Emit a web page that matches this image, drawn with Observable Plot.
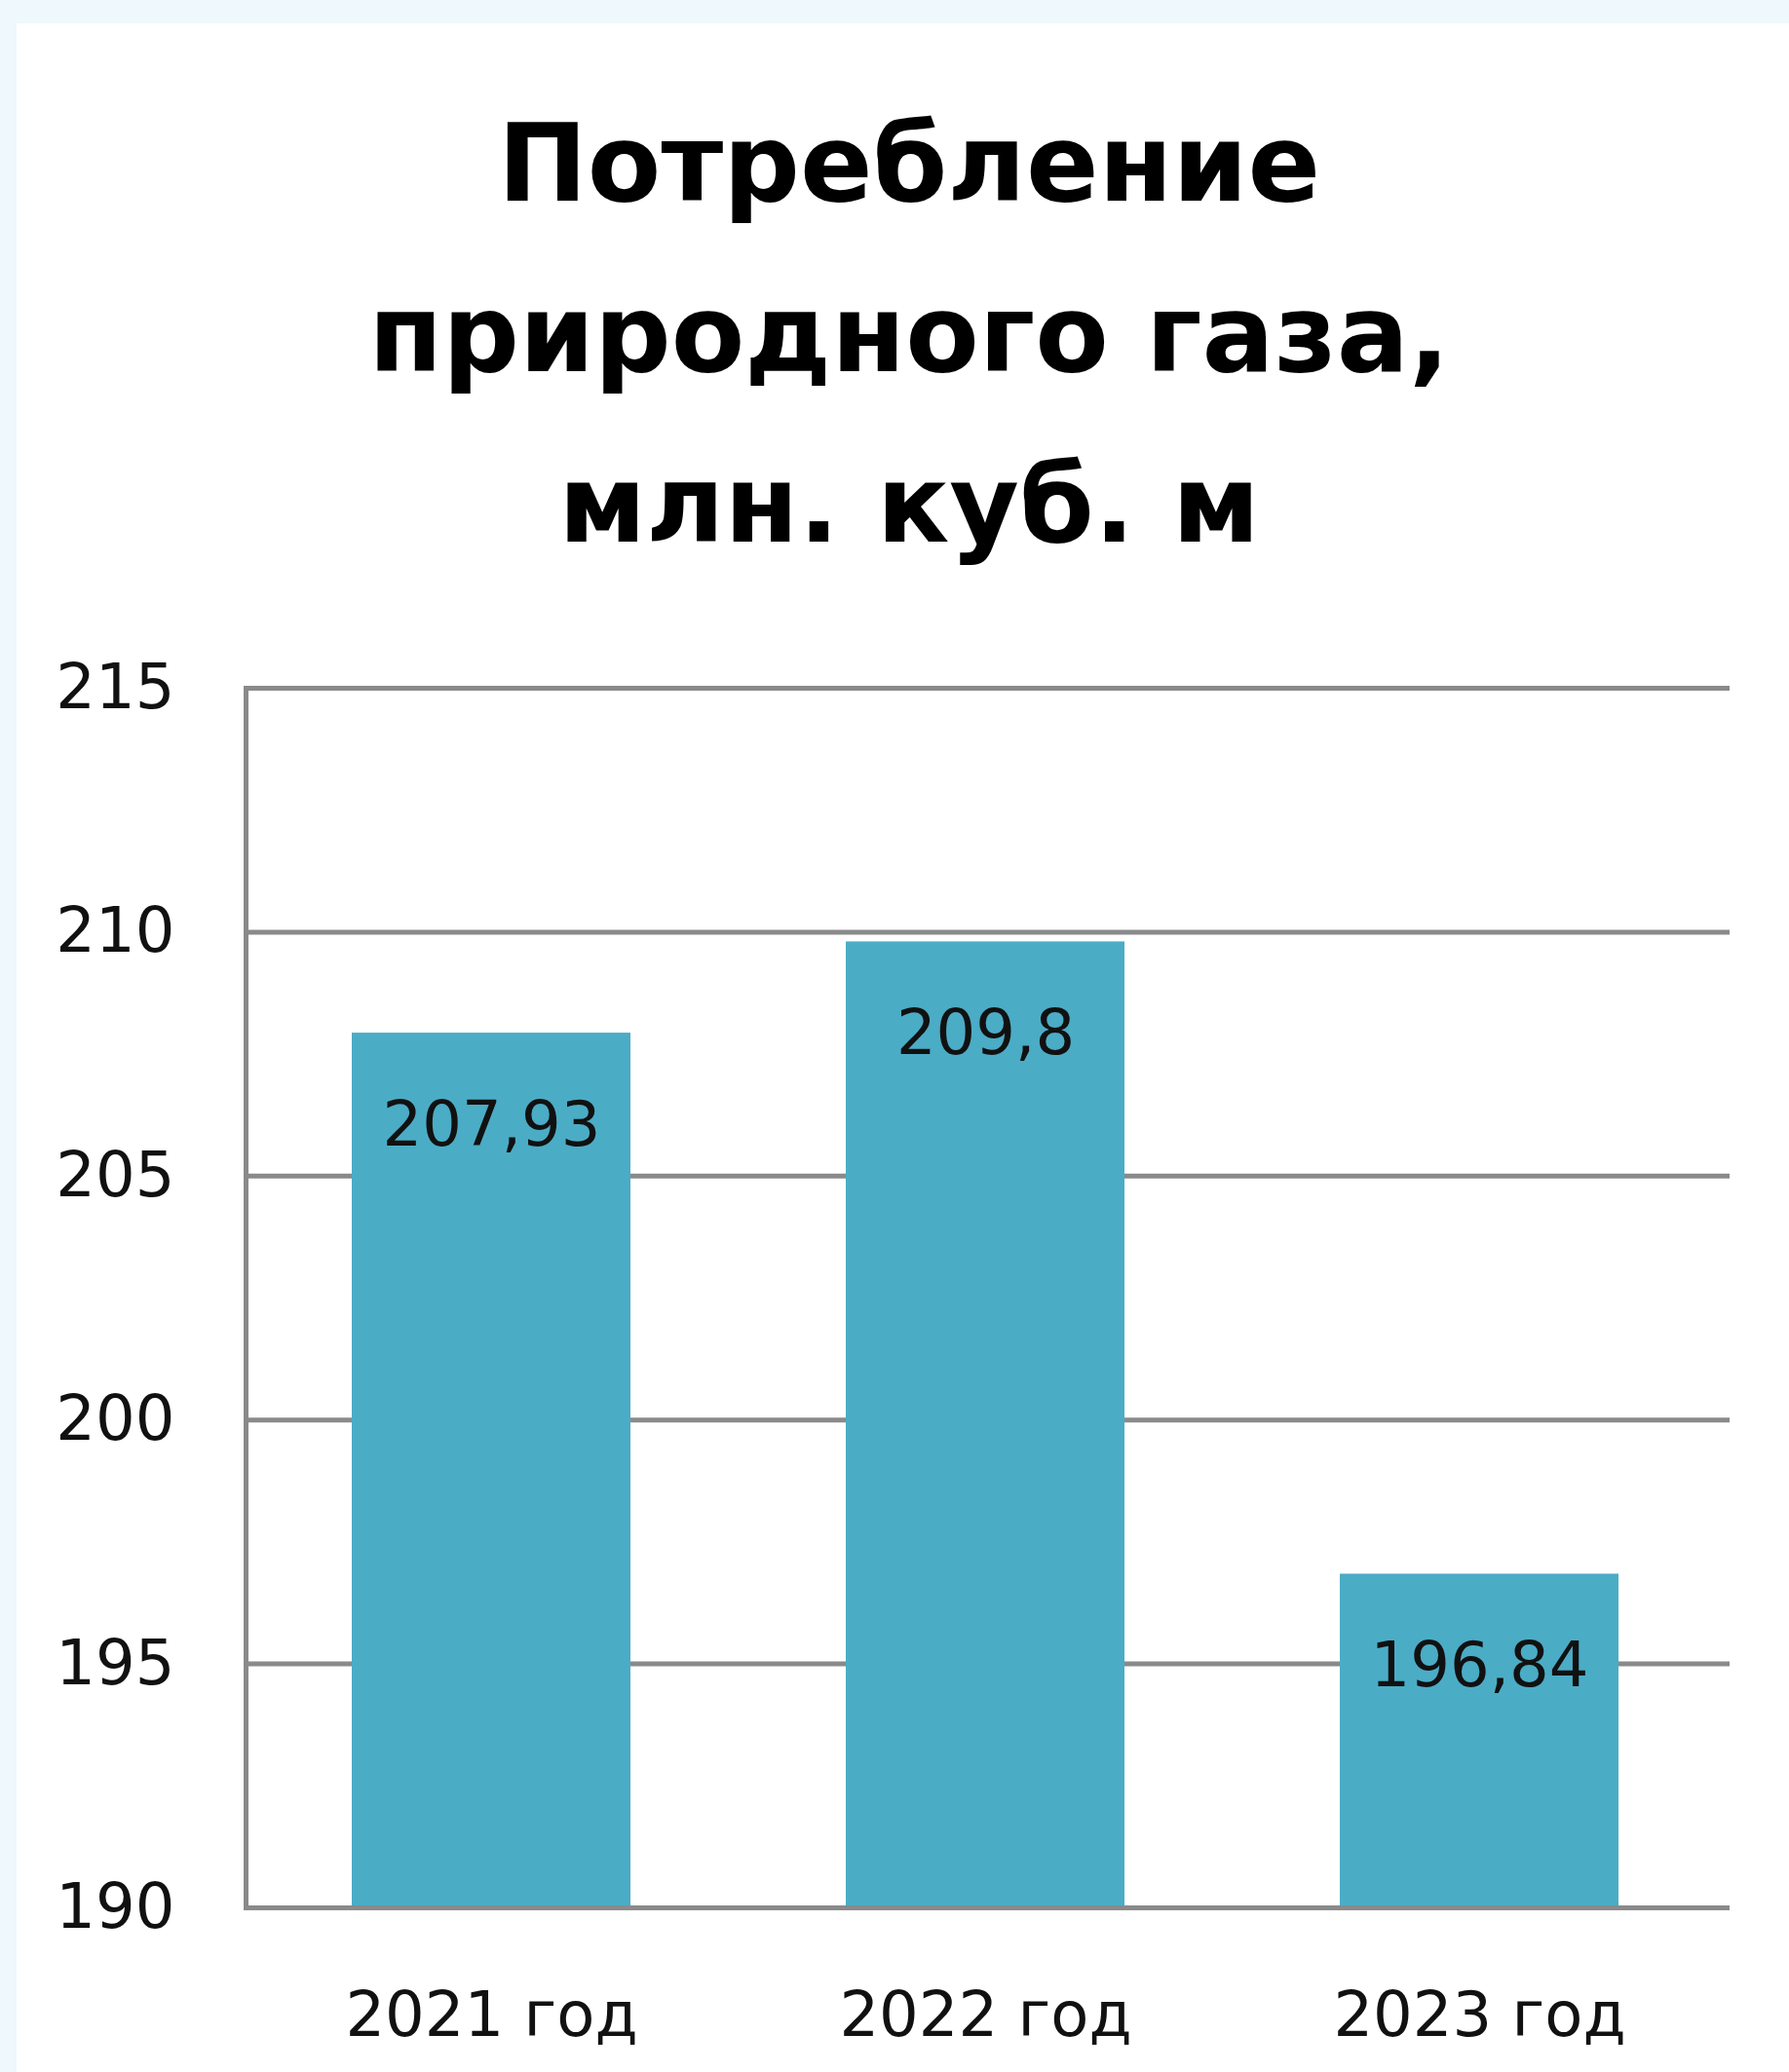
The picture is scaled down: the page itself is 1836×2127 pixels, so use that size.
<!DOCTYPE html>
<html><head><meta charset="utf-8">
<script src="https://cdn.jsdelivr.net/npm/d3@7"></script>
<script src="https://cdn.jsdelivr.net/npm/@observablehq/plot@0.6"></script>
<style>
html,body{margin:0;padding:0;width:1836px;height:2127px;overflow:hidden;background:#eef8fd;}
#panel{position:absolute;left:17px;top:24px;right:0;bottom:0;background:#fff;}
#title{position:absolute;left:30px;width:1806px;top:81px;text-align:center;font-family:"DejaVu Sans";font-weight:bold;font-size:110px;line-height:175px;color:#000;}
#chart{position:absolute;left:0;top:600px;}
</style></head><body>
<div id="panel"></div>
<div id="title">Потребление<br>природного газа,<br>млн. куб. м</div>
<div id="chart"></div>
<script>
const categories = ["2021 год", "2022 год", "2023 год"];
const values = [207.93, 209.8, 196.84];
const valueLabels = ["207,93", "209,8", "196,84"];
const yTicks = [190, 195, 200, 205, 210, 215];

const data = categories.map((c, i) => ({cat: c, value: values[i], label: valueLabels[i]}));
const yMin = yTicks[0], yMax = yTicks[yTicks.length - 1];
const grid = "#8a8a8a";

const chart = Plot.plot({
  width: 1836, height: 1527,
  marginTop: 106, marginBottom: 169, marginLeft: 252, marginRight: 61,
  style: {fontFamily: "DejaVu Sans", fontSize: "64px", color: "#111", background: "transparent"},
  x: {domain: categories, paddingInner: 0.435, paddingOuter: 0.2175, align: 0.488, label: null},
  y: {domain: [yMin, yMax], ticks: yTicks, label: null},
  marks: [
    Plot.ruleY(yTicks, {stroke: grid, strokeWidth: 5}),
    Plot.frame({anchor: "left", stroke: grid, strokeWidth: 5}),
    Plot.barY(data, {x: "cat", y1: yMin, y2: "value", fill: "#4bacc6"}),
    Plot.ruleY([yMin], {stroke: grid, strokeWidth: 5}),
    Plot.text(data, {x: "cat", y: "value", text: "label", dy: 95, fontSize: 64, fill: "#111"}),
    Plot.axisY({ticks: yTicks, tickSize: 0, tickPadding: 73, fontSize: 64, label: null}),
    Plot.axisX({tickSize: 0, tickPadding: 86, fontSize: 64, label: null})
  ]
});
document.getElementById("chart").appendChild(chart);
</script>
</body></html>
